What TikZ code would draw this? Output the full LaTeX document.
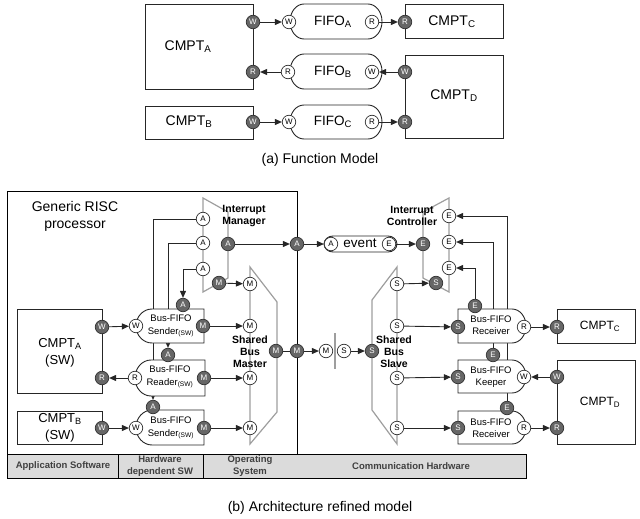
\documentclass[tikz,border=0pt]{standalone}
\usepackage{fontspec}
\setmainfont{Liberation Sans}
\usetikzlibrary{arrows.meta,backgrounds}
\newcommand{\setfs}[2]{\fontsize{#1}{#2}\selectfont}
% fifo outline: x1,y1,x2,y2, left bulge, right bulge
\newcommand{\fifoshape}[6]{%
  \pgfmathsetmacro\fxa{#1+#5}\pgfmathsetmacro\fxb{#3-#6}%
  \pgfmathsetmacro\fym{(#2+#4)/2}\pgfmathsetmacro\fyh{(#4-#2)*0.276}%
  \pgfmathsetmacro\fcl{#5*0.552}\pgfmathsetmacro\fcr{#6*0.552}%
  \draw[fifo] (\fxa,#2) -- (\fxb,#2)
    .. controls (\fxb+\fcr,#2) and (#3,\fym-\fyh) .. (#3,\fym)
    .. controls (#3,\fym+\fyh) and (\fxb+\fcr,#4) .. (\fxb,#4)
    -- (\fxa,#4)
    .. controls (\fxa-\fcl,#4) and (#1,\fym+\fyh) .. (#1,\fym)
    .. controls (#1,\fym-\fyh) and (\fxa-\fcl,#2) .. (\fxa,#2) -- cycle;}

\begin{document}
\begin{tikzpicture}[x=1pt,y=-1pt,
    port/.style={circle,draw=black!80,line width=0.7pt,inner sep=0pt,minimum size=13.5pt,font=\setfs{8}{8}},
    dport/.style={port,fill=black!60,text=white},
    wport/.style={port,fill=white},
    link/.style={draw=black!85,line width=0.9pt},
    flow/.style={link,-{Triangle[length=7pt,width=6pt]}},
    plane/.style={draw=black!38,line width=1.2pt},
    fifo/.style={draw=black!85,fill=white,line width=0.9pt},
    cmpt/.style={draw=black!85,fill=white,line width=0.9pt},
    bigtxt/.style={align=center,inner sep=0pt,font=\setfs{14}{17}},
    fifotxt/.style={align=center,inner sep=0pt,font=\setfs{9.5}{12.5}},
    boldtxt/.style={align=center,inner sep=0pt,font=\setfs{10.5}{12}\bfseries},
    bandtxt/.style={align=center,inner sep=0pt,font=\setfs{9.5}{12.5}\bfseries,text=black!75}]
\useasboundingbox (0,0) rectangle (640,519);

%%%%% (a) function model %%%%%
\draw[cmpt] (145,4) rectangle (253,89);
\draw[cmpt] (145,106) rectangle (253,139);
\draw[cmpt] (405,4) rectangle (503,38);
\draw[cmpt] (405,55) rectangle (503,138);
\node[bigtxt] (cmptA) at (188,47) {CMPT\textsubscript{A}};
\node[bigtxt] (cmptB) at (189,122) {CMPT\textsubscript{B}};
\node[bigtxt] (cmptC) at (452,22) {CMPT\textsubscript{C}};
\node[bigtxt] (cmptD) at (454,96) {CMPT\textsubscript{D}};

\fifoshape{290}{4}{382}{39}{14}{14}
\fifoshape{290}{54}{382}{89}{14}{14}
\fifoshape{290}{105}{382}{139}{14}{14}
\node[bigtxt,font=\setfs{13.5}{16}] (fifoA) at (333,22) {FIFO\textsubscript{A}};
\node[bigtxt,font=\setfs{13.5}{16}] (fifoB) at (333,72) {FIFO\textsubscript{B}};
\node[bigtxt,font=\setfs{13.5}{16}] (fifoC) at (333,122) {FIFO\textsubscript{C}};

\node[dport] (aAw) at (253,22) {W};
\node[dport] (aAr) at (253,72) {R};
\node[dport] (aBw) at (253,122) {W};
\node[wport] (fAw) at (289,22) {W};
\node[wport] (fAr) at (372,22) {R};
\node[wport] (fBr) at (288,72) {R};
\node[wport] (fBw) at (372,72) {W};
\node[wport] (fCw) at (289,122) {W};
\node[wport] (fCr) at (372,122) {R};
\node[dport] (aCr) at (405,22) {R};
\node[dport] (aDw) at (405,72) {W};
\node[dport] (aDr) at (405,122) {R};

\draw[flow] (aAw) -- (fAw);
\draw[flow] (fAr) -- (aCr);
\draw[flow] (aDw) -- (fBw);
\draw[flow] (fBr) -- (aAr);
\draw[flow] (aBw) -- (fCw);
\draw[flow] (fCr) -- (aDr);

\node[bigtxt,font=\setfs{14}{17}] (capA) at (320,160) {(a) Function Model};

%%%%% (b) architecture refined model %%%%%
\draw[line width=0.9pt] (7,191) rectangle (297,478);
\draw[line width=0.9pt,fill=black!14] (7,454) rectangle (526,478);
\draw[line width=0.9pt] (118,454) -- (118,478) (203,454) -- (203,478);
\node[bandtxt] (appsw) at (63,466) {Application Software};
\node[bandtxt] (hdsw) at (160,466) {Hardware\\dependent SW};
\node[bandtxt] (ossw) at (250,466) {Operating\\System};
\node[bandtxt] (comhw) at (411,466) {Communication Hardware};

\node[bigtxt] (risc) at (75,216) {Generic RISC\\processor};

% planes
\draw[plane] (203,198) -- (228,212) -- (228,278) -- (203,292) -- cycle;
\draw[plane] (250,267) -- (277,302) -- (277,412) -- (250,444) -- cycle;
\draw[plane] (397,267) -- (372,300) -- (372,410) -- (397,444) -- cycle;
\draw[plane] (449,198) -- (423,212) -- (423,278) -- (449,292) -- cycle;
\draw[black!38,line width=2.5pt] (335,333) -- (335,369);

\node[boldtxt] (intman) at (244,216) {Interrupt\\Manager};
\node[boldtxt] (intctl) at (412,216) {Interrupt\\Controller};
\node[boldtxt] (sbmaster) at (250,352) {Shared\\Bus\\Master};
\node[boldtxt] (sbslave) at (394,352) {Shared\\Bus\\Slave};

% components
\draw[cmpt] (17,309) rectangle (102,393);
\draw[cmpt] (17,411) rectangle (102,444);
\draw[cmpt] (557,309) rectangle (635,343);
\draw[cmpt] (557,360) rectangle (635,444);
\node[bigtxt,font=\setfs{13}{17}] (swA) at (60,353) {CMPT\textsubscript{A}\\(SW)};
\node[bigtxt,font=\setfs{13}{17}] (swB) at (60,428) {CMPT\textsubscript{B}\\(SW)};
\node[bigtxt,font=\setfs{12}{15}] (hwC) at (600,326) {CMPT\textsubscript{C}};
\node[bigtxt,font=\setfs{12}{15}] (hwD) at (600,402) {CMPT\textsubscript{D}};

% bus fifos
\fifoshape{136}{309}{204}{343}{16}{0}
\fifoshape{135}{360}{205}{396}{16}{0}
\fifoshape{136}{410}{204}{445}{16}{0}
\fifoshape{458}{309}{526}{343}{0}{14}
\fifoshape{458}{360}{526}{393}{0}{14}
\fifoshape{458}{411}{526}{444}{0}{14}
\fifoshape{324}{236}{397}{252}{9}{9}
\node[fifotxt] (send1) at (171,326) {Bus-FIFO\\Sender\textsubscript{(SW)}};
\node[fifotxt] (reader) at (170,377) {Bus-FIFO\\Reader\textsubscript{(SW)}};
\node[fifotxt] (send2) at (171,428) {Bus-FIFO\\Sender\textsubscript{(SW)}};
\node[fifotxt] (recv1) at (491,325) {Bus-FIFO\\Receiver};
\node[fifotxt] (keeper) at (491,377) {Bus-FIFO\\Keeper};
\node[fifotxt] (recv2) at (491,428) {Bus-FIFO\\Receiver};
\node[bigtxt,font=\setfs{13.5}{16}] (event) at (360,243) {event};

% ports
\node[dport] (caW) at (102,327) {W};
\node[dport] (caR) at (102,378) {R};
\node[dport] (cbW) at (102,428) {W};
\node[wport] (s1W) at (136,326) {W};
\node[dport] (s1M) at (203,326) {M};
\node[dport] (s1A) at (183,305) {A};
\node[wport] (rdR) at (135,378) {R};
\node[dport] (rdM) at (204,378) {M};
\node[dport] (rdA) at (168,355) {A};
\node[wport] (s2W) at (136,428) {W};
\node[dport] (s2M) at (204,428) {M};
\node[dport] (s2A) at (153,407) {A};

\node[wport] (imA1) at (203,219) {A};
\node[wport] (imA2) at (203,243) {A};
\node[wport] (imA3) at (203,269) {A};
\node[dport] (imA) at (228,244) {A};
\node[dport] (imM) at (219,283) {M};

\node[wport] (smM1) at (250,284) {M};
\node[wport] (smM2) at (250,326) {M};
\node[wport] (smM3) at (250,378) {M};
\node[wport] (smM4) at (250,428) {M};
\node[dport] (smM) at (276,351) {M};

\node[dport] (bA) at (297,244) {A};
\node[dport] (bM) at (297,351) {M};
\node[wport] (evA) at (331,244) {A};
\node[wport] (evE) at (389,244) {E};
\node[wport] (bmM) at (326,351) {M};
\node[wport] (bsS) at (344,351) {S};

\node[dport] (ssS) at (372,351) {S};
\node[wport] (ssS1) at (397,284) {S};
\node[wport] (ssS2) at (397,326) {S};
\node[wport] (ssS3) at (397,378) {S};
\node[wport] (ssS4) at (397,428) {S};

\node[wport] (icE1) at (449,216) {E};
\node[wport] (icE2) at (449,242) {E};
\node[wport] (icE3) at (449,268) {E};
\node[dport] (icE) at (423,244) {E};
\node[dport] (icS) at (436,283) {S};

\node[dport] (r1S) at (458,327) {S};
\node[wport] (r1R) at (524,327) {R};
\node[dport] (r1E) at (475,306) {E};
\node[dport] (kS) at (458,377) {S};
\node[wport] (kW) at (524,377) {W};
\node[dport] (kE) at (493,355) {E};
\node[dport] (r2S) at (458,428) {S};
\node[wport] (r2R) at (524,428) {R};
\node[dport] (r2E) at (507,408) {E};
\node[dport] (ccR) at (557,327) {R};
\node[dport] (cdW) at (557,377) {W};
\node[dport] (cdR) at (557,428) {R};

% data and bus connectors
\draw[flow] (caW) -- (s1W);
\draw[flow] (rdR) -- (caR);
\draw[flow] (cbW) -- (s2W);
\draw[flow] (imM) -- (smM1);
\draw[flow] (s1M) -- (smM2);
\draw[flow] (rdM) -- (smM3);
\draw[flow] (s2M) -- (smM4);
\draw[flow] (imA) -- (bA);
\draw[flow] (bA) -- (evA);
\draw[flow] (evE) -- (icE);
\draw[link] (smM) -- (bM);
\draw[flow] (bM) -- (bmM);
\draw[flow] (bsS) -- (ssS);
\draw[flow] (ssS1) -- (icS);
\draw[flow] (ssS2) -- (r1S);
\draw[flow] (ssS3) -- (kS);
\draw[flow] (ssS4) -- (r2S);
\draw[flow] (r1R) -- (ccR);
\draw[flow] (cdW) -- (kW);
\draw[flow] (r2R) -- (cdR);

% interrupt lines run behind the fifos
\begin{scope}[on background layer]
  \draw[flow] (imA1) -| (s2A);
  \draw[flow] (imA2) -| (rdA);
  \draw[flow] (imA3) -| (s1A);
  \draw[flow] (r1E) |- (icE3);
  \draw[flow] (kE) |- (icE2);
  \draw[flow] (r2E) |- (icE1);
\end{scope}

\node[bigtxt] (capB) at (320,508) {(b) Architecture refined model};
\end{tikzpicture}
\end{document}
